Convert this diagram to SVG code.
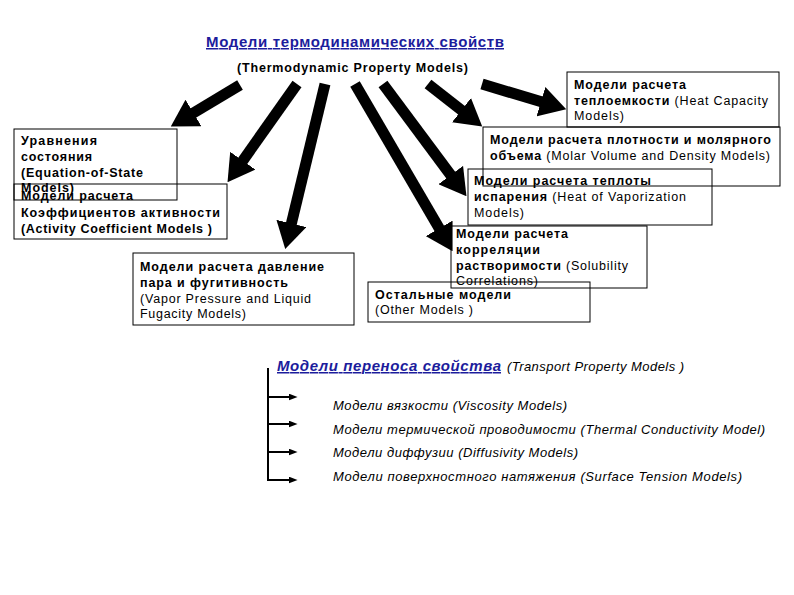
<svg xmlns="http://www.w3.org/2000/svg" width="794" height="595" viewBox="0 0 794 595">
<style>
text{font-family:"Liberation Sans",Arial,sans-serif;font-size:12.5px;fill:#000}
.b{font-weight:bold}
.t{font-size:15px;font-weight:bold;fill:#1c1c9c;text-decoration:underline}
.i{font-style:italic;font-size:13px}
.ti{font-style:italic;font-weight:bold;font-size:15px;fill:#1c1c9c;text-decoration:underline}
.box{fill:none;stroke:#000;stroke-width:1}
.arr{stroke:#000;stroke-width:11;fill:none;marker-end:url(#big)}
.br{stroke:#000;stroke-width:2;fill:none}
.sm{stroke:#000;stroke-width:2;fill:none;marker-end:url(#small)}
</style>
<defs>
<marker id="big" viewBox="0 0 10 10" refX="0.5" refY="5" markerWidth="2.4" markerHeight="2.8" orient="auto" preserveAspectRatio="none"><path d="M0,0 L10,5 L0,10 z" fill="#000"/></marker>
<marker id="small" viewBox="0 0 10 10" refX="0.5" refY="5" markerWidth="4.5" markerHeight="3.5" orient="auto" preserveAspectRatio="none"><path d="M0,0 L10,5 L0,10 z" fill="#000"/></marker>
</defs>
<rect width="794" height="595" fill="#fff"/>
<g id="title">
<text x="206" y="47" class="t" textLength="298">Модели термодинамических свойств</text>
<text x="237" y="72" class="b" textLength="231">(Thermodynamic Property Models)</text>
</g>
<g id="connectors">
<line class="arr" x1="240" y1="85" x2="192.3" y2="113.6"/>
<line class="arr" x1="297" y1="84" x2="242" y2="161.8"/>
<line class="arr" x1="325" y1="84" x2="291.1" y2="224.7"/>
<line class="arr" x1="355" y1="84" x2="439.9" y2="229.5"/>
<line class="arr" x1="383" y1="84" x2="451.5" y2="176.1"/>
<line class="arr" x1="428" y1="84" x2="462.5" y2="111"/>
<line class="arr" x1="482" y1="84" x2="542.2" y2="102.1"/>
<path class="br" d="M268,368 V480"/>
<line class="sm" x1="267" y1="397" x2="289" y2="397"/>
<line class="sm" x1="267" y1="424" x2="289" y2="424"/>
<line class="sm" x1="267" y1="452" x2="289" y2="452"/>
<line class="sm" x1="267" y1="480" x2="289" y2="480"/>
</g>
<g id="eos">
<rect class="box" x="14" y="129" width="163" height="71"/>
<text x="21" y="145" class="b" textLength="76">Уравнения</text>
<text x="21" y="161" class="b" textLength="71">состояния</text>
<text x="21" y="177" class="b" textLength="122">(Equation-of-State</text>
<text x="21" y="192" class="b" textLength="53">Models)</text>
</g>
<g id="activity">
<rect class="box" x="14" y="184" width="213" height="55"/>
<text x="21" y="200" class="b" textLength="112">Модели расчета</text>
<text x="21" y="217" class="b" textLength="199">Коэффициентов активности</text>
<text x="21" y="233" class="b" textLength="191">(Activity Coefficient Models )</text>
</g>
<g id="vapor-pressure">
<rect class="box" x="133" y="253" width="221" height="72"/>
<text x="140" y="271" class="b" textLength="184">Модели расчета давление</text>
<text x="140" y="287" class="b" textLength="148">пара и фугитивность</text>
<text x="140" y="303" textLength="171">(Vapor Pressure and Liquid</text>
<text x="140" y="318" textLength="106">Fugacity Models)</text>
</g>
<g id="heat-capacity">
<rect class="box" x="567" y="72" width="212" height="55"/>
<text x="574" y="89" class="b" textLength="112">Модели расчета</text>
<text x="574" y="105" textLength="194"><tspan class="b">теплоемкости</tspan> (Heat Capacity</text>
<text x="574" y="120" textLength="50">Models)</text>
</g>
<g id="molar-volume">
<rect class="box" x="483" y="127" width="297" height="59"/>
<text x="490" y="144" class="b" textLength="281">Модели расчета плотности и молярного</text>
<text x="490" y="160" textLength="280"><tspan class="b">объема</tspan> (Molar Volume and Density Models)</text>
</g>
<g id="vaporization">
<rect class="box" x="468" y="169" width="244" height="56"/>
<text x="474" y="185" class="b" textLength="177">Модели расчета теплоты</text>
<text x="474" y="201" textLength="212"><tspan class="b">испарения</tspan> (Heat of Vaporization</text>
<text x="474" y="217" textLength="50">Models)</text>
</g>
<g id="solubility">
<rect class="box" x="451" y="226" width="196" height="62"/>
<text x="456" y="238" class="b" textLength="112">Модели расчета</text>
<text x="456" y="254" class="b" textLength="84">корреляции</text>
<text x="456" y="270" textLength="172"><tspan class="b">растворимости</tspan> (Solubility</text>
<text x="456" y="285" textLength="82">Correlations)</text>
</g>
<g id="other">
<rect class="box" x="368" y="282" width="222" height="40"/>
<text x="375" y="299" class="b" textLength="136">Остальные модели</text>
<text x="375" y="314" textLength="98">(Other Models )</text>
</g>
<g id="transport">
<text x="277" y="371" class="ti" textLength="224">Модели переноса свойства</text>
<text x="507" y="371" class="i" textLength="177">(Transport Property Models )</text>
</g>
<g id="viscosity"><text x="333" y="410" class="i" textLength="234">Модели вязкости (Viscosity Models)</text></g>
<g id="thermal"><text x="333" y="434" class="i" textLength="432">Модели термической проводимости (Thermal Conductivity Model)</text></g>
<g id="diffusivity"><text x="333" y="457" class="i" textLength="245">Модели диффузии (Diffusivity Models)</text></g>
<g id="surface"><text x="333" y="481" class="i" textLength="409">Модели поверхностного натяжения (Surface Tension Models)</text></g>
</svg>
